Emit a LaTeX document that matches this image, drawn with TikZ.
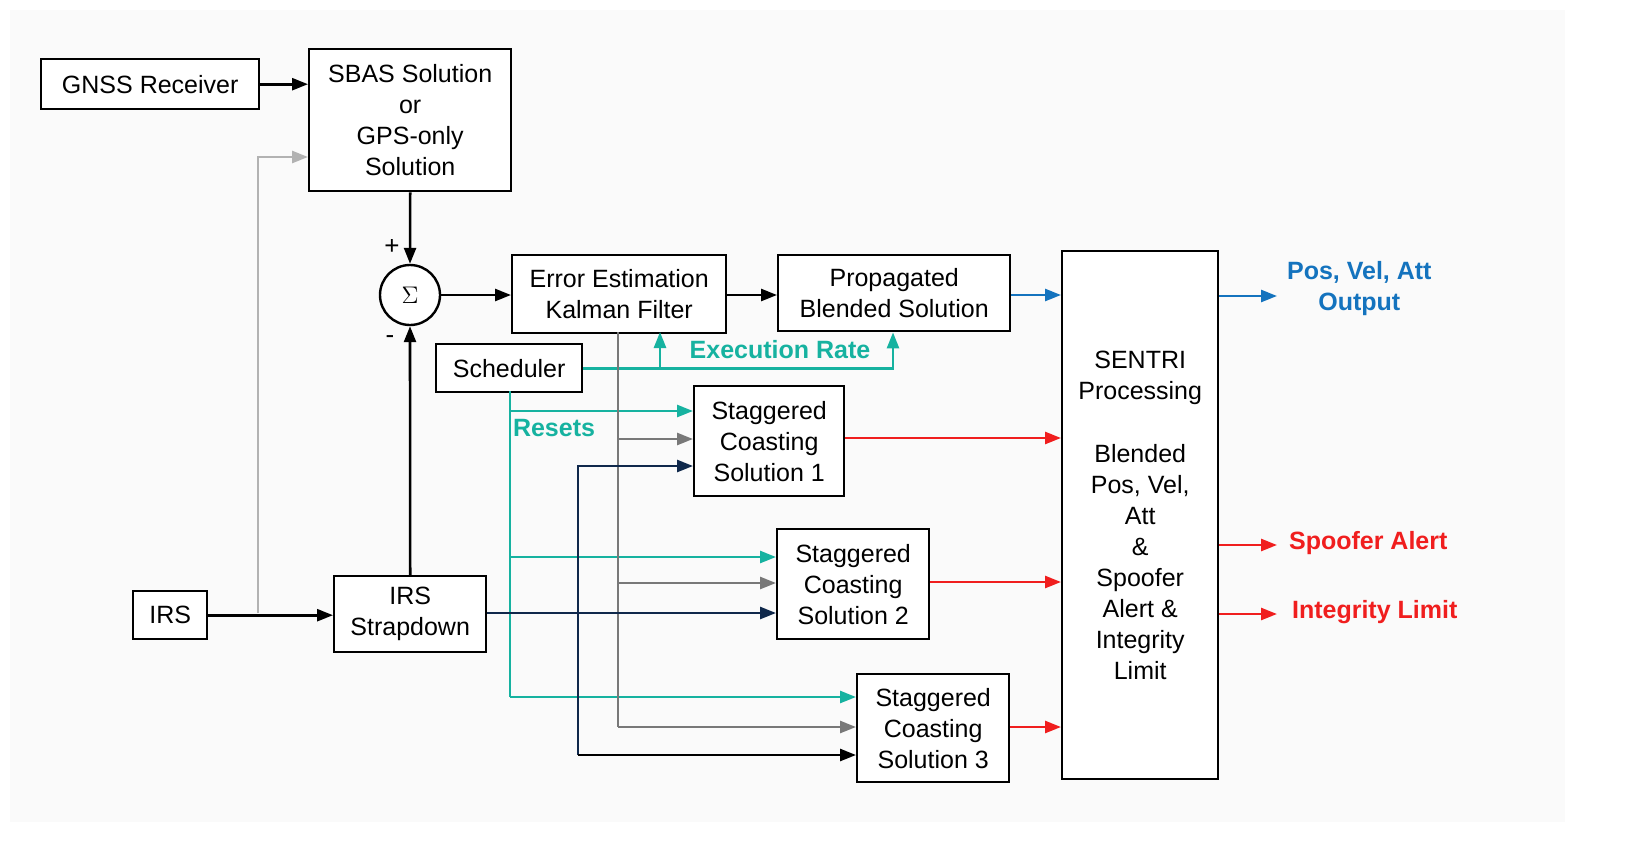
\documentclass[tikz,border=0pt]{standalone}
\usepackage{fontspec}
\setmainfont{Liberation Sans}
\usetikzlibrary{arrows.meta}
\definecolor{tealc}{RGB}{22,178,160}
\definecolor{navyc}{RGB}{15,40,75}
\definecolor{bluec}{RGB}{20,115,190}
\definecolor{redc}{RGB}{240,30,30}
\definecolor{grayc}{RGB}{120,120,120}
\tikzset{
  blk/.style={draw,line width=1.2pt,fill=white,align=center,font=\fontsize{12.5}{15.5}\selectfont,anchor=north west},
  arr/.style={line width=1.3pt,-{Triangle[length=8pt,width=6pt]}},
  lbl/.style={font=\bfseries\fontsize{12.5}{15.5}\selectfont,align=center}
}
\begin{document}
\begin{tikzpicture}[x=0.5pt,y=-0.5pt]
  \fill[gray!4] (10,10) rectangle (1565,822);
  % blocks
  \node[blk,minimum width=109pt,minimum height=25pt] (gnss) at (40,58) {GNSS Receiver};
  \node[blk,minimum width=101pt,minimum height=71pt] (sbas) at (308,48) {SBAS Solution\\or\\GPS-only\\Solution};
  \node[draw,circle,line width=1.2pt,fill=white,minimum size=30pt,inner sep=0pt,font=\fontsize{13}{15}\selectfont] (sum) at (410,295) {$\Sigma$};
  \node[blk,minimum width=107pt,minimum height=39pt] (kf) at (511,254) {Error Estimation\\Kalman Filter};
  \node[blk,minimum width=116pt,minimum height=38pt] (prop) at (777,254) {Propagated\\Blended Solution};
  \node[blk,minimum width=78pt,minimum height=264pt] (sentri) at (1061,250) {SENTRI\\Processing\\[16pt]Blended\\Pos, Vel,\\Att\\\&\\Spoofer\\Alert \&\\Integrity\\Limit};
  \node[blk,minimum width=73pt,minimum height=24pt] (sched) at (435,343) {Scheduler};
  \node[blk,minimum width=75pt,minimum height=55pt] (scs1) at (693,385) {Staggered\\Coasting\\Solution 1};
  \node[blk,minimum width=76pt,minimum height=55pt] (scs2) at (776,528) {Staggered\\Coasting\\Solution 2};
  \node[blk,minimum width=76pt,minimum height=54pt] (scs3) at (856,673) {Staggered\\Coasting\\Solution 3};
  \node[blk,minimum width=37pt,minimum height=24pt] (irs) at (132,590) {IRS};
  \node[blk,minimum width=76pt,minimum height=38pt] (strap) at (333,575) {IRS\\Strapdown};
  % free ends and branch points
  \coordinate (split) at (258,613);
  \coordinate (kfdown) at (618,332);
  \coordinate (scdown) at (510,391);
  \coordinate (navyup) at (578,755);
  \coordinate (outA) at (1277,296);
  \coordinate (outB) at (1277,545);
  \coordinate (outC) at (1277,614);
  % main path
  \draw[arr] (gnss.east) -- (gnss.east -| sbas.west);
  \draw[arr,gray!60] (split) |- (308,157);
  \draw[arr] (sbas.south) -- (sum.north);
  \draw[arr] (strap.north) -- (sum.south);
  \draw[arr] (irs.east) -- (strap.west |- irs.east);
  \draw[arr] (sum.east) -- (kf.west |- sum.east);
  \draw[arr] (kf.east |- sum.east) -- (prop.west |- sum.east);
  \draw[arr,bluec] (prop.east |- sum.east) -- (sentri.west |- sum.east);
  \node[font=\fontsize{13}{15}\selectfont] at (392,247) {+};
  \node[font=\fontsize{13}{15}\selectfont] at (390,340) {-};
  % scheduler
  \draw[arr,tealc] (sched.east) -| (prop.south -| 893,0);
  \draw[arr,tealc] (660,367) -- (660,332);
  \node[lbl,tealc] at (780,350) {Execution Rate};
  \draw[line width=1.3pt,tealc] (scdown) -- (510,697);
  \foreach \y/\t in {411/scs1,557/scs2,697/scs3}
    \draw[arr,tealc] (510,\y) -- (\t.west |- 0,\y);
  \node[lbl,tealc] at (554,428) {Resets};
  % kalman resets
  \draw[line width=1.3pt,grayc] (kfdown) -- (618,727);
  \foreach \y/\t in {439/scs1,583/scs2,727/scs3}
    \draw[arr,grayc] (618,\y) -- (\t.west |- 0,\y);
  % strapdown to coasting
  \draw[arr,navyc] (strap.east |- 0,613) -- (scs2.west |- 0,613);
  \draw[arr,navyc] (navyup) |- (scs1.west |- 0,466);
  \draw[arr] (navyup) -- (scs3.west |- 0,755);
  % coasting to sentri
  \foreach \t/\y in {scs1/438,scs2/582,scs3/727}
    \draw[arr,redc] (\t.east |- 0,\y) -- (sentri.west |- 0,\y);
  % outputs
  \draw[arr,bluec] (sentri.east |- outA) -- (outA);
  \draw[arr,redc] (sentri.east |- outB) -- (outB);
  \draw[arr,redc] (sentri.east |- outC) -- (outC);
  \node[lbl,bluec,anchor=west] at (1280,289) {Pos, Vel, Att\\Output};
  \node[lbl,redc,anchor=west] at (1282,543) {Spoofer Alert};
  \node[lbl,redc,anchor=west] at (1285,612) {Integrity Limit};
  \pgfresetboundingbox
  \useasboundingbox (0,0) rectangle (1632,857);
\end{tikzpicture}
\end{document}
